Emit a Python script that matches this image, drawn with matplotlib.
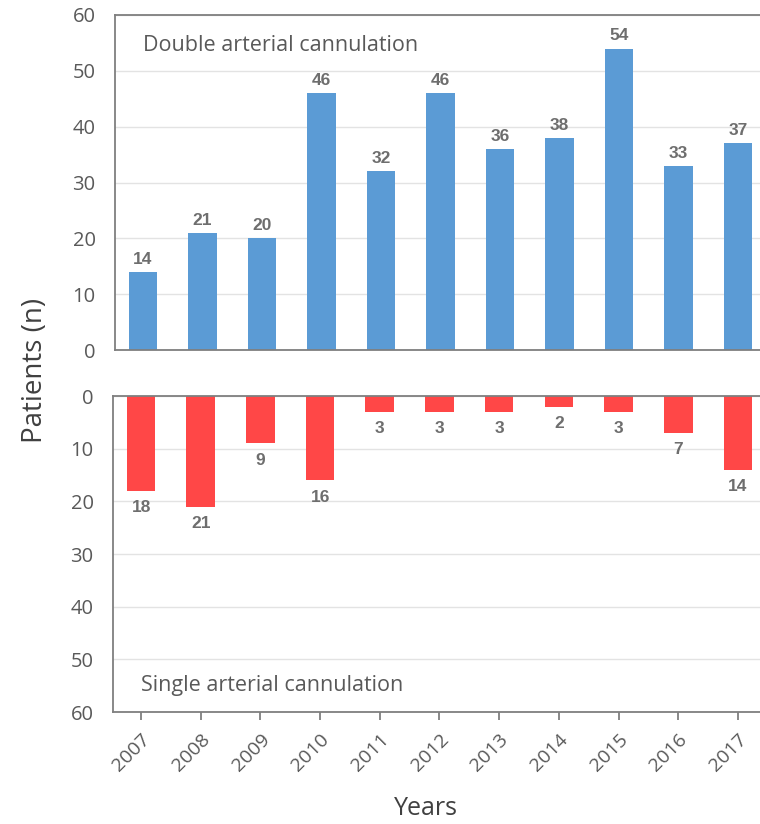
import matplotlib
matplotlib.use("Agg")
import matplotlib.pyplot as plt
import numpy as np

years = ["2007", "2008", "2009", "2010", "2011", "2012", "2013", "2014", "2015", "2016", "2017"]
double_cannulation = [14, 21, 20, 46, 32, 46, 36, 38, 54, 33, 37]
single_cannulation = [18, 21, 9, 16, 3, 3, 3, 2, 3, 7, 14]
y_ticks = [0, 10, 20, 30, 40, 50, 60]

BLUE = "#5B9BD5"
RED = "#FF4747"
TEXT = "#595959"
LABEL = "#6E6E6E"
SPINE = "#7F7F7F"
GRID = "#E3E3E3"

plt.rcParams["font.family"] = ["Open Sans", "DejaVu Sans"]

fig = plt.figure(figsize=(7.6, 8.24), dpi=100)
ax_top = fig.add_axes([0.1513, 0.5752, 0.8487, 0.4066])
ax_bot = fig.add_axes([0.1487, 0.1359, 0.8513, 0.3835])

x = np.arange(len(years))
width = 0.48

def style(ax):
    ax.set_xlim(-0.47, 10.37)
    ax.set_ylim(0, 60)
    ax.set_yticks(y_ticks)
    ax.yaxis.grid(True, color=GRID, linewidth=1.0)
    ax.set_axisbelow(True)
    for s in ["left", "top", "bottom"]:
        ax.spines[s].set_color(SPINE)
        ax.spines[s].set_linewidth(1.3)
    ax.spines["right"].set_visible(False)
    ax.tick_params(axis="y", length=0, labelsize=14.5, labelcolor=TEXT, pad=14)

# upper panel: double arterial cannulation
ax_top.bar(x, double_cannulation, width=width, color=BLUE, zorder=2)
for xi, v in zip(x, double_cannulation):
    ax_top.text(xi, v + 0.9, str(v), ha="center", va="bottom", fontsize=12.5,
                fontweight="bold", color=LABEL, family="Liberation Sans")
style(ax_top)
ax_top.set_xticks([])
ax_top.text(0.0, 54.5, "Double arterial cannulation", fontsize=15.5, color=TEXT,
            ha="left", va="center")

# lower panel: single arterial cannulation (inverted)
ax_bot.bar(x, single_cannulation, width=width, color=RED, zorder=2)
style(ax_bot)
ax_bot.invert_yaxis()
for xi, v in zip(x, single_cannulation):
    ax_bot.text(xi, v + 1.8, str(v), ha="center", va="top", fontsize=12.5,
                fontweight="bold", color=LABEL, family="Liberation Sans")
ax_bot.text(0.0, 55, "Single arterial cannulation", fontsize=15.5, color=TEXT,
            ha="left", va="center")
ax_bot.set_xticks(x)
ax_bot.set_xticklabels(years, rotation=45, ha="right", rotation_mode="anchor",
                       fontsize=14, color=TEXT)
ax_bot.tick_params(axis="x", length=6, width=1.3, color=SPINE, direction="out", pad=7)

fig.text(0.046, 0.55, "Patients (n)", rotation=90, ha="center", va="center",
         fontsize=20, color="#404040")
fig.text(0.56, 0.019, "Years", ha="center", va="center", fontsize=18, color="#404040")

fig.savefig("out.png", dpi=100, facecolor="white")
